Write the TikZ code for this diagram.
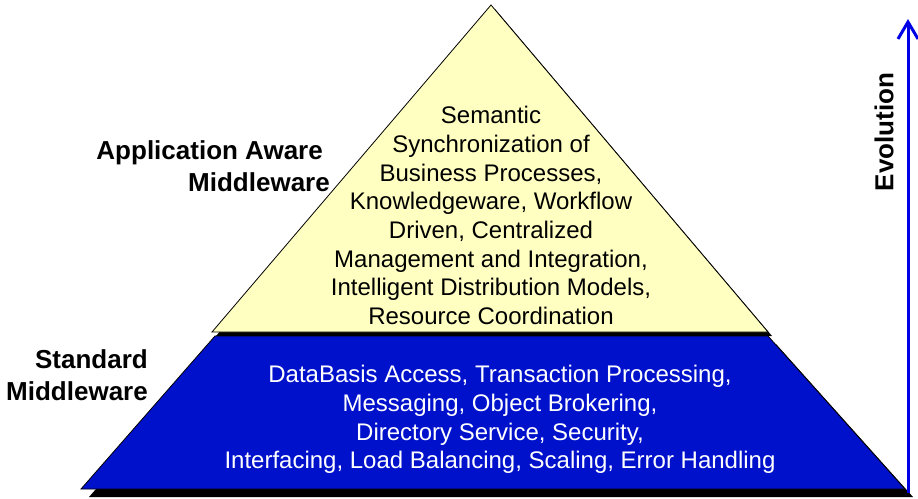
\documentclass[tikz,border=0pt]{standalone}
\usepackage{fontspec}
\setmainfont{Liberation Sans}
\usetikzlibrary{arrows.meta}
\definecolor{pyryellow}{RGB}{255,255,194}
\definecolor{pyrblue}{RGB}{0,17,204}
\definecolor{arrowblue}{RGB}{0,0,230}
\begin{document}
\begin{tikzpicture}[x=1pt,y=-1pt,
  tier/.style={draw=black, line width=0.8pt, line join=miter},
  dropshadow/.style={fill=black},
  bodytext/.style={font=\fontsize{24}{28.7}\selectfont, align=center, inner sep=0pt},
  labeltext/.style={font=\fontsize{26}{32}\selectfont\bfseries, align=right, inner sep=0pt}]
\useasboundingbox (0,0) rectangle (918,498);

% corner points of the two tiers
\coordinate (apex) at (491,5);
\coordinate (ybl) at (212,332);
\coordinate (ybr) at (768,332);
\coordinate (btl) at (215,336);
\coordinate (btr) at (768,336);
\coordinate (bbr) at (905,489);
\coordinate (bbl) at (81,489);

% drop shadows
\fill[dropshadow] ([shift={(8,8)}]bbl) -- ([shift={(8,8)}]btl) -- ([shift={(8,8)}]btr) -- ([shift={(8,8)}]bbr) -- cycle;
\fill[dropshadow] ([shift={(4,4)}]apex) -- ([shift={(4,4)}]ybl) -- ([shift={(4,4)}]ybr) -- cycle;

% tiers
\filldraw[tier, fill=pyrblue] (bbl) -- (btl) -- (btr) -- (bbr) -- cycle;
\filldraw[tier, fill=pyryellow] (apex) -- (ybl) -- (ybr) -- cycle;

% tier contents
\node[bodytext] (topText) at (491,215.5) {Semantic\\Synchronization of\\Business Processes,\\Knowledgeware, Workflow\\Driven, Centralized\\Management and Integration,\\Intelligent Distribution Models,\\Resource Coordination};
\node[bodytext, text=white] (baseText) at (500,419.5) {DataBasis Access, Transaction Processing,\\Messaging, Object Brokering,\\Directory Service, Security,\\Interfacing, Load Balancing, Scaling, Error Handling};

% tier labels
\node[labeltext, anchor=east] (awareLabel) at (330,166.5) {Application Aware\kern7pt\\Middleware};
\node[labeltext, anchor=east] (stdLabel) at (148,375) {Standard\\Middleware};

% evolution arrow
\coordinate (evoStart) at (908,493);
\coordinate (evoEnd) at (908,19);
\draw[arrowblue, line width=3pt, -{Straight Barb[length=17pt,width=20pt]}] (evoStart) -- (evoEnd);
\node[labeltext, rotate=90] (evoLabel) at (884,132) {Evolution};
\end{tikzpicture}
\end{document}
